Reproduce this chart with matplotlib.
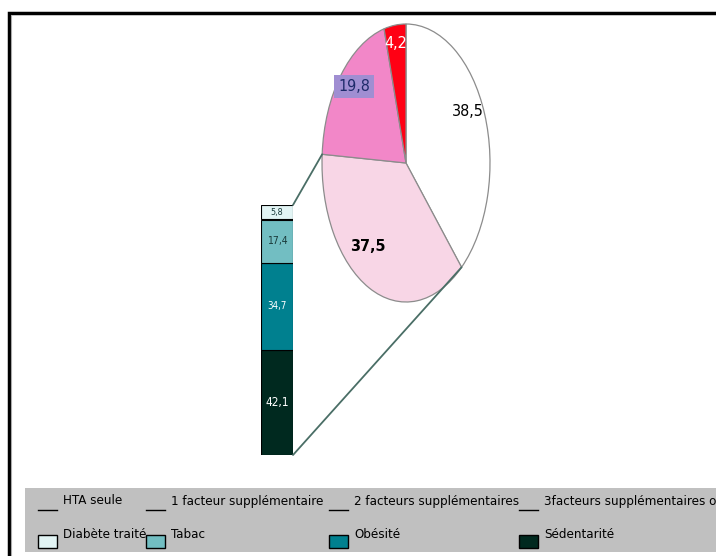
import numpy as np
import matplotlib
matplotlib.use('Agg')
import matplotlib.pyplot as plt
from matplotlib.patches import Rectangle, ConnectionPatch

plt.rcParams['font.family'] = ['DejaVu Sans']
plt.rcParams['font.stretch'] = 'condensed'

# pie: number of extra risk factors
pie_labels = ['HTA seule', '1 facteur supplémentaire', '2 facteurs supplémentaires',
              '3facteurs supplémentaires ou plus']
pie_values = [38.5, 37.5, 19.8, 4.2]
pie_colors = ['#FFFFFF', '#F8D6E6', '#F287C8', '#FF0014']

# bar: breakdown of the "1 facteur" slice
bar_labels = ['Sédentarité', 'Obésité', 'Tabac', 'Diabète traité']
bar_values = [42.1, 34.7, 17.4, 5.8]
bar_colors = ['#00291F', '#00808F', '#72BEC2', '#E2F4F4']


def fmt(v):
    return f'{v:.1f}'.replace('.', ',')


W, H = 716, 556
fig = plt.figure(figsize=(W / 100, H / 100), dpi=100)

# overlay in pixel coords for frame + legend
bg = fig.add_axes([0, 0, 1, 1])
bg.set_xlim(0, W)
bg.set_ylim(H, 0)
bg.axis('off')
bg.plot([9, 9, W], [H, 13, 13], color='black', lw=2.5, solid_joinstyle='miter')
bg.plot([11, 11], [H, 15], color='#AAAAAA', lw=0.8)

# pie axes (stretched into an ellipse)
ax_pie = fig.add_axes([322 / W, 1 - 302 / H, 168 / W, 278 / H])
wedges, _ = ax_pie.pie(pie_values, colors=pie_colors, startangle=90, counterclock=False,
                       wedgeprops=dict(edgecolor='#8C8C8C', linewidth=0.9))
ax_pie.set_aspect('auto')
ax_pie.set_xlim(-1, 1)
ax_pie.set_ylim(-1, 1)
ax_pie.axis('off')

pie_text_pos = [(0.73, 0.37), (-0.46, -0.60), (-0.62, 0.55), (-0.12, 0.86)]
pie_text_style = [
    dict(color='black', fontsize=11.5),
    dict(color='black', fontsize=11.5, fontweight='bold'),
    dict(color='#1E2A6A', fontsize=11.5,
         bbox=dict(boxstyle='square,pad=0.25', fc='#A08ED2', ec='none')),
    dict(color='white', fontsize=11.5),
]
for v, (px, py), st in zip(pie_values, pie_text_pos, pie_text_style):
    ax_pie.text(px, py, fmt(v), ha='center', va='center', **st)

# stacked bar
ax_bar = fig.add_axes([261 / W, 1 - 455 / H, 32 / W, 250 / H])
bottom = 0
bar_text_style = [
    dict(color='white', fontsize=8.5),
    dict(color='white', fontsize=7),
    dict(color='#1A3A3A', fontsize=7.5),
    dict(color='#1A3A3A', fontsize=6.5),
]
for v, c, st in zip(bar_values, bar_colors, bar_text_style):
    ax_bar.bar(0, v, bottom=bottom, width=1, color=c, edgecolor='black', linewidth=0.8)
    ax_bar.text(0, bottom + v / 2, fmt(v), ha='center', va='center', **st)
    bottom += v
ax_bar.set_xlim(-0.5, 0.5)
ax_bar.set_ylim(0, sum(bar_values))
ax_bar.axis('off')

# connector lines between bar and the "1 facteur" slice
cum = np.cumsum([0] + pie_values) / sum(pie_values)
a_start = np.deg2rad(90 - 360 * cum[1])
a_end = np.deg2rad(90 - 360 * cum[2])
for ya, ang in [(sum(bar_values), a_end), (0, a_start)]:
    con = ConnectionPatch(xyA=(0.5, ya), coordsA='data', axesA=ax_bar,
                          xyB=(np.cos(ang), np.sin(ang)), coordsB='data', axesB=ax_pie,
                          color='#4A6E66', lw=1.3)
    fig.add_artist(con)

# legend box
bg.add_patch(Rectangle((25, 488), W - 25, 64, facecolor='#C0C0C0', edgecolor='none'))
col_x = [38, 146, 329, 519]
for x, lab in zip(col_x, pie_labels):
    bg.plot([x, x + 19], [510, 510], color='black', lw=1)
    bg.text(x + 25, 501, lab, fontsize=9.5, va='center', ha='left', clip_on=False)
for x, lab in zip(col_x, bar_labels[::-1]):
    c = bar_colors[bar_labels.index(lab)]
    bg.add_patch(Rectangle((x, 535), 19, 13, facecolor=c, edgecolor='black', lw=1))
    bg.text(x + 25, 535, lab, fontsize=9.5, va='center', ha='left')

fig.savefig('out.png', dpi=100)
